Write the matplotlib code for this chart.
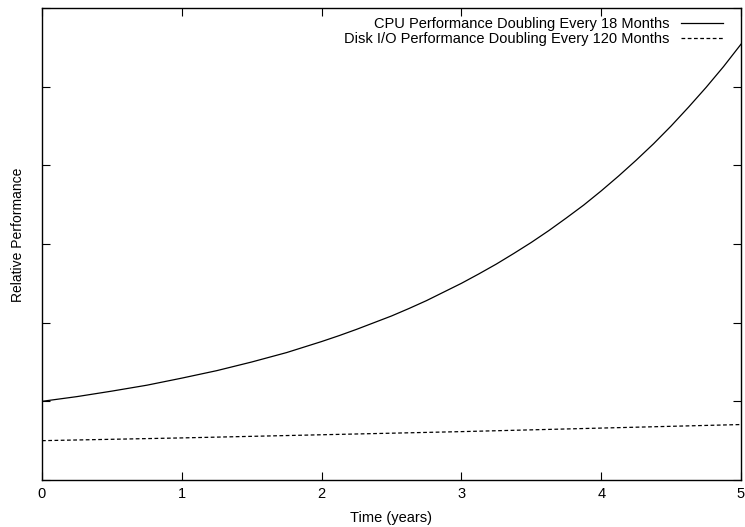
import matplotlib
matplotlib.use("Agg")
import matplotlib.pyplot as plt

plt.rcParams['font.family'] = ['Liberation Sans', 'DejaVu Sans']

# valores
t_cpu = [0, 0.25, 0.5, 0.75, 1.0, 1.25, 1.5, 1.75, 2.0, 2.125, 2.25, 2.375,
         2.5, 2.625, 2.75, 2.875, 3.0, 3.125, 3.25, 3.375, 3.5, 3.625, 3.75,
         3.875, 4.0, 4.125, 4.25, 4.375, 4.5, 4.625, 4.75, 4.875, 5.0]
cpu = [2.00, 2.12, 2.26, 2.41, 2.59, 2.78, 3.00, 3.24, 3.52, 3.67, 3.83, 4.00,
       4.17, 4.36, 4.56, 4.78, 5.00, 5.24, 5.49, 5.76, 6.04, 6.34, 6.66,
       6.99, 7.35, 7.73, 8.13, 8.55, 9.00, 9.48, 9.98, 10.51, 11.08]
t_disk = [0, 1, 2, 3, 4, 5]
disk = [1.00, 1.07, 1.15, 1.23, 1.32, 1.41]

x_ticks = [0, 1, 2, 3, 4, 5]
y_ticks = [0, 2, 4, 6, 8, 10, 12]

fig = plt.figure(figsize=(7.45, 5.27), dpi=100)
ax = fig.add_axes([42/745, 47/527, 699/745, 472/527])

ax.plot(t_cpu, cpu, color='black', lw=0.9,
        label='CPU Performance Doubling Every 18 Months')
ax.plot(t_disk, disk, color='black', lw=0.9, dashes=(3, 2),
        label='Disk I/O Performance Doubling Every 120 Months')

ax.set_xlim(0, 5)
ax.set_ylim(0, 12)
ax.set_xticks(x_ticks)
ax.set_yticks(y_ticks)
ax.set_yticklabels([])
ax.tick_params(direction='in', length=6, width=0.8, top=True, right=True,
               labelsize=10.5, pad=5)
for s in ax.spines.values():
    s.set_linewidth(1.0)

ax.set_xlabel('Time (years)', fontsize=10.5, labelpad=7)
ax.set_ylabel('Relative Performance', fontsize=10)
ax.yaxis.set_label_coords(-0.024, 0.519)

ax.legend(loc='upper right', bbox_to_anchor=(0.9785, 0.987),
          frameon=False, markerfirst=False, fontsize=10.5,
          handlelength=2.9, handletextpad=0.75, labelspacing=0.05,
          borderaxespad=0, borderpad=0.2)

fig.savefig('out.png', dpi=100)
